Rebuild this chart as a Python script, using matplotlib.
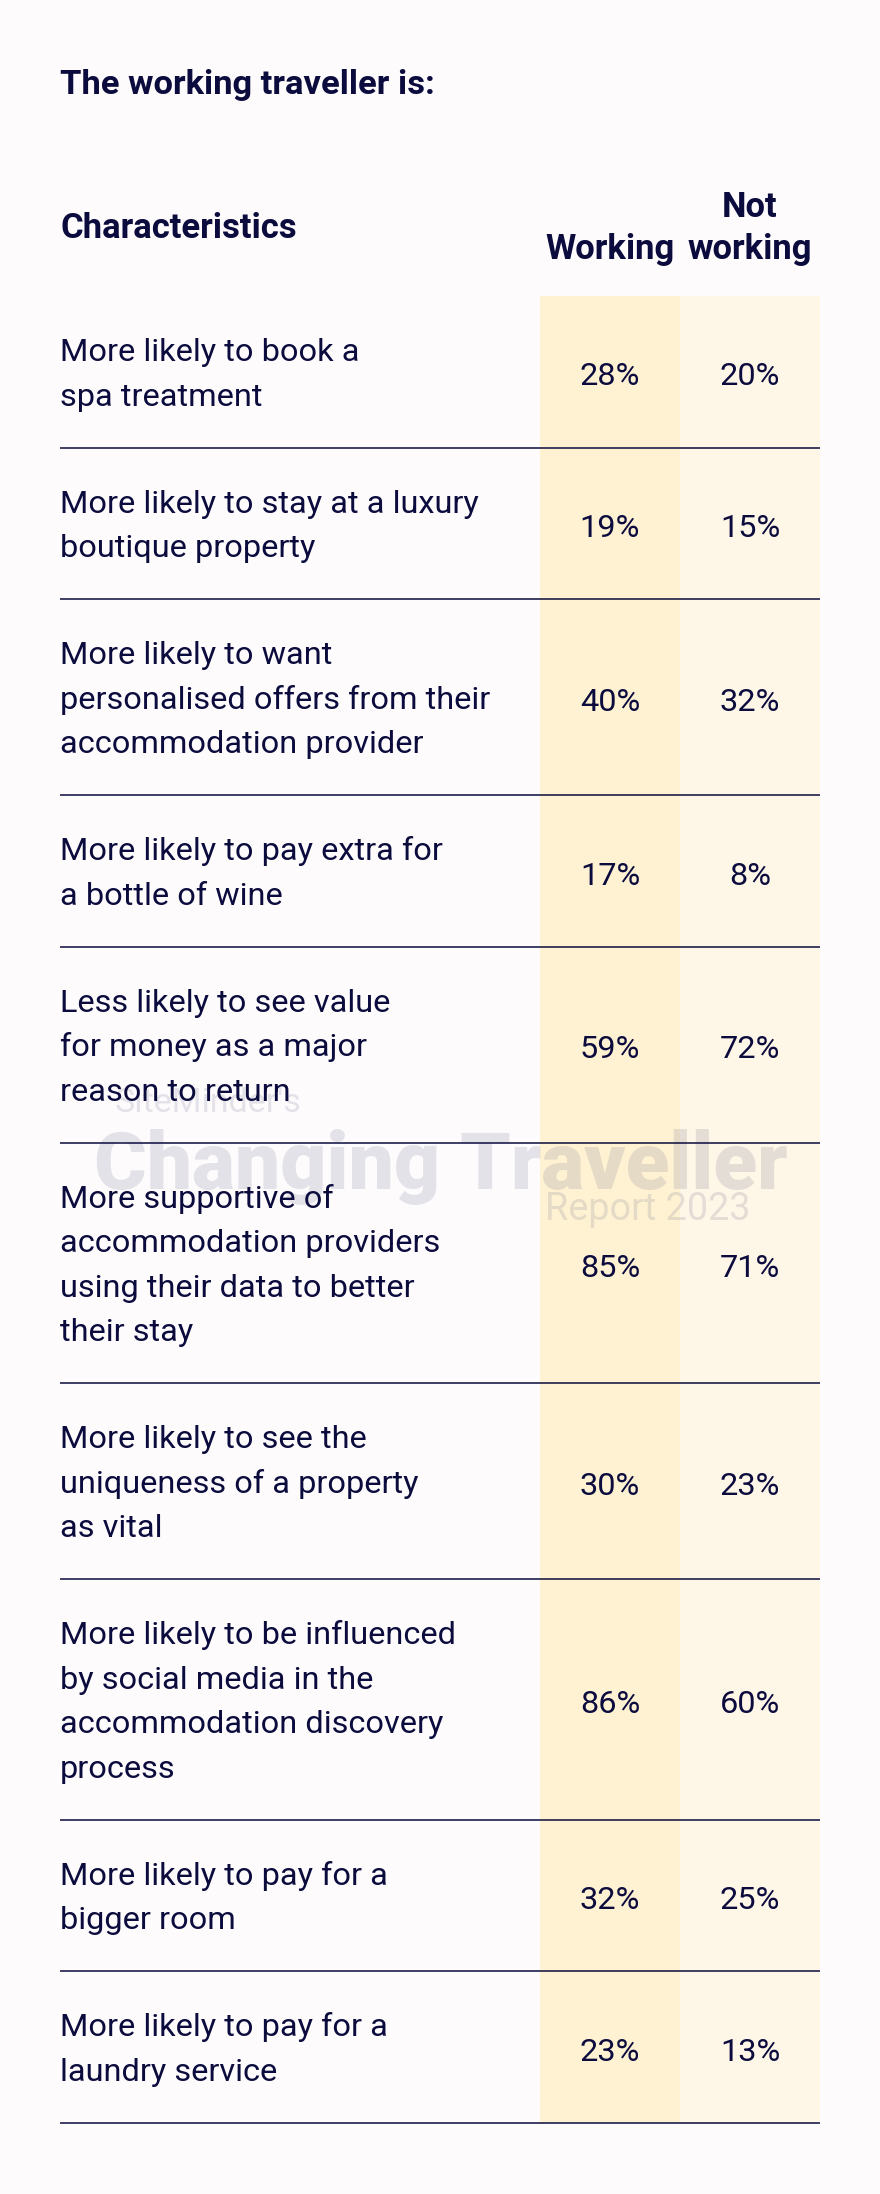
import matplotlib
matplotlib.use("Agg")
import matplotlib.pyplot as plt

# ---------------- data ----------------
title = "The working traveller is:"
col_header = "Characteristics"
group_headers = ["Working", "Not\nworking"]
characteristics = [
    "More likely to book a\nspa treatment",
    "More likely to stay at a luxury\nboutique property",
    "More likely to want\npersonalised offers from their\naccommodation provider",
    "More likely to pay extra for\na bottle of wine",
    "Less likely to see value\nfor money as a major\nreason to return",
    "More supportive of\naccommodation providers\nusing their data to better\ntheir stay",
    "More likely to see the\nuniqueness of a property\nas vital",
    "More likely to be influenced\nby social media in the\naccommodation discovery\nprocess",
    "More likely to pay for a\nbigger room",
    "More likely to pay for a\nlaundry service",
]
working = [28, 19, 40, 17, 59, 85, 30, 86, 32, 23]
not_working = [20, 15, 32, 8, 72, 71, 23, 60, 25, 13]

# ---------------- style ----------------
W, H = 880, 2194
BG = "#fdfbfc"
NAVY = "#0b0b3d"
COL_W = "#fef2d3"
COL_NW = "#fef6e7"
FONT = "Roboto"

fig = plt.figure(figsize=(W / 100, H / 100), dpi=100, facecolor=BG)
ax = fig.add_axes([0, 0, 1, 1])
ax.set_xlim(0, W)
ax.set_ylim(H, 0)
ax.axis("off")
ax.set_facecolor(BG)
renderer = fig.canvas.get_renderer()


def fit_size(text, target_px, weight="normal"):
    t = ax.text(0, 0, text, fontsize=10, fontweight=weight, family=FONT)
    w = t.get_window_extent(renderer).width
    t.remove()
    return 10 * target_px / w


body_fs = fit_size("personalised offers from their", 432)
bold_fs = fit_size("Characteristics", 237, "bold")
title_fs = fit_size(title, 374, "bold")
px = 100 / 72.0
cap = 0.711

left, right = 60, 820
xw0, xw1, xn1 = 540, 680, 820
top = 296
line_gap = 44.4
row_pad = 62.8

# row boundaries
nlines = [c.count("\n") + 1 for c in characteristics]
bounds = [top]
for n in nlines:
    bounds.append(bounds[-1] + row_pad + line_gap * n)

# column shading
ax.axvspan(xw0, xw1, ymin=1 - bounds[-1] / H, ymax=1 - top / H, color=COL_W, lw=0, zorder=1)
ax.axvspan(xw1, xn1, ymin=1 - bounds[-1] / H, ymax=1 - top / H, color=COL_NW, lw=0, zorder=1)

# watermark
wm_color = "#3a3a6a"
ax.text(115, 1100 + 0.5 * cap * fit_size("SiteMinder's", 187) * px, "SiteMinder's",
        fontsize=fit_size("SiteMinder's", 187), family=FONT, color=wm_color, alpha=0.13,
        ha="left", va="baseline", zorder=2)
cfs = fit_size("Changing Traveller", 692, "black")
ax.text(94, 1160 + 0.5 * cap * cfs * px, "Changing Traveller", fontsize=cfs, family=FONT,
        fontweight="black", color=wm_color, alpha=0.13, ha="left", va="baseline", zorder=2)
rfs = fit_size("Report 2023", 205)
ax.text(545, 1207 + 0.5 * cap * rfs * px, "Report 2023", fontsize=rfs, family=FONT,
        color=wm_color, alpha=0.13, ha="left", va="baseline", zorder=2)

# separators
for y in bounds[1:]:
    ax.plot([left, right], [y, y], color=NAVY, lw=1.1, solid_capstyle="butt", zorder=3)

# title and headers
ax.text(left, 82 + 0.5 * cap * title_fs * px, title, fontsize=title_fs, fontweight="bold",
        family=FONT, color=NAVY, ha="left", va="baseline", zorder=4)
ax.text(left, 226 + 0.5 * cap * bold_fs * px, col_header, fontsize=bold_fs, fontweight="bold",
        family=FONT, color=NAVY, ha="left", va="baseline", zorder=4)
hdr_x = [(xw0 + xw1) / 2, (xw1 + xn1) / 2]
for hx, h in zip(hdr_x, group_headers):
    parts = h.split("\n")
    for i, p in enumerate(reversed(parts)):
        yc = 247 - i * 42
        ax.text(hx, yc + 0.5 * cap * bold_fs * px, p, fontsize=bold_fs, fontweight="bold",
                family=FONT, color=NAVY, ha="center", va="baseline", zorder=4)

# rows
for r, (txt, wv, nv) in enumerate(zip(characteristics, working, not_working)):
    yc = (bounds[r] + bounds[r + 1]) / 2
    lines = txt.split("\n")
    n = len(lines)
    for i, ln in enumerate(lines):
        ly = yc + (i - (n - 1) / 2) * line_gap
        ax.text(left, ly + 0.5 * cap * body_fs * px, ln, fontsize=body_fs, family=FONT,
                color=NAVY, ha="left", va="baseline", zorder=4)
    for hx, v in zip(hdr_x, (wv, nv)):
        ax.text(hx, yc + 2 + 0.5 * cap * body_fs * px, f"{v}%", fontsize=body_fs, family=FONT,
                color=NAVY, ha="center", va="baseline", zorder=4)

fig.savefig("out.png", dpi=100, facecolor=BG)
